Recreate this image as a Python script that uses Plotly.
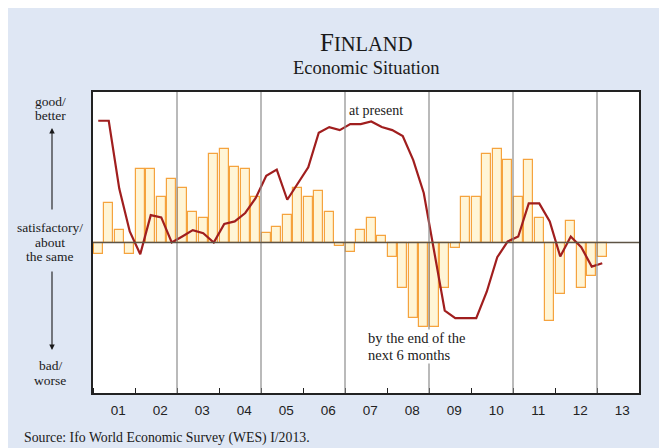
import plotly.graph_objects as go

# ---- data (quarterly, 2001Q1 .. 2013Q1) ----
years = [2001 + i // 4 for i in range(49)]
quarters = [i % 4 + 1 for i in range(49)]

expectations = [-7.8, 26, 8.2, -7.8, 48.7, 48.7, 30.2, 42.2, 36.2, 20.2,
                16.4, 58.9, 62.4, 50.4, 48.7, 30.2, 6.2, 10.2, 18.2, 36.2,
                30.2, 34.4, 20.2, -2, -6.4, 8.2, 16.4, 4.2, -9.8, -30.2,
                -50.4, -56.4, -56.4, -30.2, -3.8, 30.2, 30.2, 58.9, 62.4, 54.7,
                30.2, 54.7, 16.4, -52, -34.2, 14, -30.2, -22.2, -9.8]

present = [80.9, 80.9, 35.8, 7.3, -7.8, 18.2, 16.7, 0, 4, 8.2,
           6.2, 0, 12.4, 14, 19.6, 29.6, 44.4, 48.4, 28.4, 39.6,
           50, 72.9, 76.7, 74.7, 78.7, 78.7, 80.4, 76.7, 74.7, 70.7,
           54.7, 32.9, -7, -45.3, -50.2, -50.2, -50.2, -32.7, -9.8, 0.7,
           4, 26, 26, 14, -9.3, 4, -3.1, -16, -13.8]

year_labels = ["01", "02", "03", "04", "05", "06", "07", "08", "09", "10", "11", "12", "13"]
first_year = 2001
grid_years = [2003, 2005, 2007, 2009, 2011, 2013]

x = [y + (q - 0.5) / 4 for y, q in zip(years, quarters)]
label_pos = [first_year + i + 0.6 for i in range(len(year_labels))]
boundaries = [first_year + i for i in range(len(year_labels) + 1)]

SERIF = "Liberation Serif, Times New Roman, serif"
SANS = "Liberation Sans, Arial, sans-serif"
TXT = "#1a1a1a"

fig = go.Figure()
fig.add_trace(go.Bar(x=x, y=expectations, width=0.205,
                     marker=dict(color="#FFF5D6", line=dict(color="#F5A33E", width=1.2)),
                     name="by the end of the next 6 months", showlegend=False))
fig.add_trace(go.Scatter(x=x, y=present, mode="lines",
                         line=dict(color="#A01E1E", width=2.2),
                         name="at present", showlegend=False))

shapes = []
shapes.append(dict(type="rect", xref="paper", yref="paper", x0=0, x1=1, y0=0, y1=1,
                   fillcolor="white", line=dict(width=0), layer="below"))
for gy in grid_years:
    shapes.append(dict(type="line", xref="x", yref="paper", x0=gy, x1=gy, y0=0, y1=1,
                       line=dict(color="#8C8C8C", width=1.2), layer="above"))
shapes.append(dict(type="line", xref="paper", yref="y", x0=0, x1=1, y0=0, y1=0,
                   line=dict(color="#5E5446", width=1.5), layer="above"))


def px_x(px):
    return (px - 93) / 546


def px_y(py):
    return (393 - py) / 301


ann = []
ann.append(dict(text="F<span style='font-size:20.5px'>INLAND</span>", x=0.5, y=px_y(42),
                xref="paper", yref="paper", showarrow=False,
                font=dict(family=SERIF, size=25, color=TXT), yanchor="middle"))
ann.append(dict(text="Economic Situation", x=0.5, y=px_y(67.5),
                xref="paper", yref="paper", showarrow=False,
                font=dict(family=SERIF, size=18.5, color=TXT), yanchor="middle"))
left_lines = [("good/", 101), ("better", 116), ("satisfactory/", 227), ("about", 242),
              ("the same", 257), ("bad/", 365), ("worse", 380)]
for txt, py in left_lines:
    ann.append(dict(text=txt, x=px_x(50), y=px_y(py), xref="paper", yref="paper",
                    showarrow=False, font=dict(family=SERIF, size=13.5, color=TXT),
                    xanchor="center", yanchor="middle"))
ann.append(dict(text="", x=px_x(52), y=px_y(128), xref="paper", yref="paper",
                showarrow=True, ax=0, ay=83, arrowhead=2, arrowsize=1, arrowwidth=1.1,
                arrowcolor=TXT))
ann.append(dict(text="", x=px_x(52), y=px_y(350), xref="paper", yref="paper",
                showarrow=True, ax=0, ay=-80, arrowhead=2, arrowsize=1, arrowwidth=1.1,
                arrowcolor=TXT))
ann.append(dict(text="at present", x=px_x(376), y=px_y(111),
                xref="paper", yref="paper", showarrow=False,
                font=dict(family=SERIF, size=14, color=TXT), yanchor="middle"))
for txt, py in [("by the end of the", 338), ("next 6 months", 355)]:
    ann.append(dict(text=txt, x=px_x(367), y=px_y(py), xref="paper", yref="paper",
                    showarrow=False, font=dict(family=SERIF, size=14.5, color=TXT),
                    xanchor="left", yanchor="middle", bgcolor="white", borderpad=0))
ann.append(dict(text="Source: Ifo World Economic Survey (WES) I/2013.", x=px_x(22),
                y=px_y(438), xref="paper", yref="paper", showarrow=False,
                font=dict(family=SERIF, size=13.8, color=TXT), xanchor="left",
                yanchor="middle"))

fig.update_layout(
    width=659, height=440,
    margin=dict(l=85, r=28, t=84, b=55),
    paper_bgcolor="#DFE7F4", plot_bgcolor="rgba(0,0,0,0)",
    shapes=shapes, annotations=ann, bargap=0, showlegend=False,
    xaxis=dict(range=[boundaries[0], boundaries[-1]], tickvals=label_pos, ticktext=year_labels,
               ticks="", showgrid=False, zeroline=False,
               showline=True, mirror=True, linecolor="#222", linewidth=1.5,
               tickfont=dict(family=SANS, size=13.5, color="#222"), ticklabelstandoff=4,
               minor=dict(tickvals=boundaries, ticks="inside", ticklen=5,
                          tickcolor="#222", tickwidth=1.2, showgrid=False)),
    yaxis=dict(range=[-100, 100], showticklabels=False, ticks="", showgrid=False,
               zeroline=False, showline=True, mirror=True, linecolor="#222", linewidth=1.5),
)

fig.write_html("out.html")
